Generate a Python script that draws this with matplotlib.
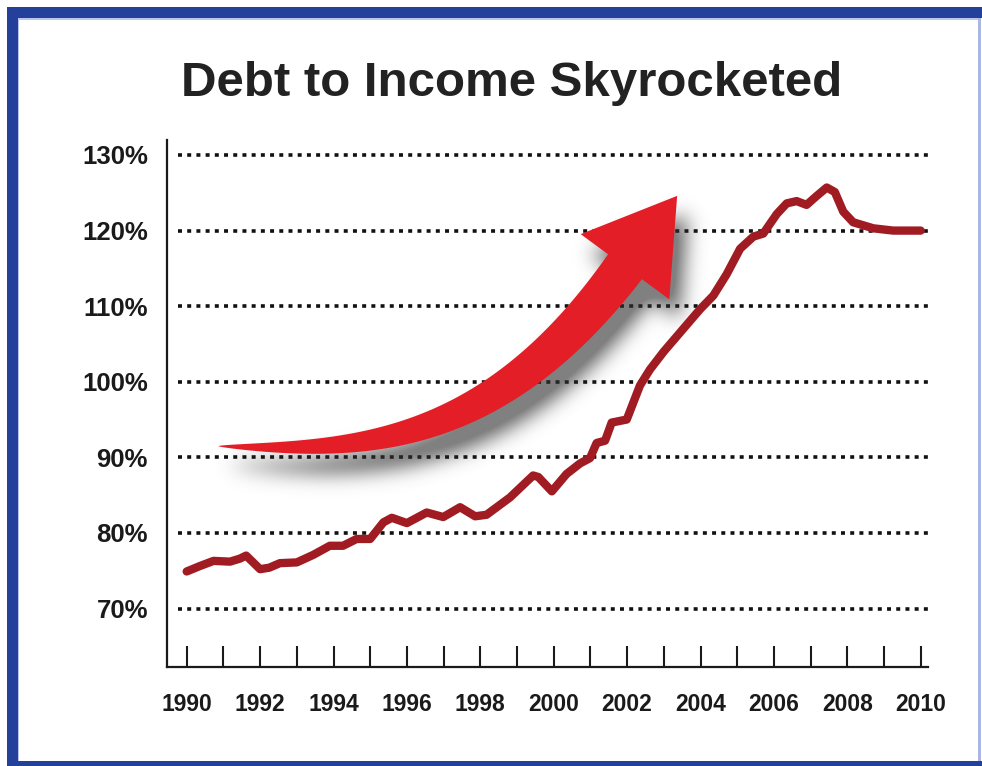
import numpy as np
import matplotlib
matplotlib.use("Agg")
import matplotlib.pyplot as plt
from matplotlib.path import Path
from matplotlib.patches import Polygon, Rectangle
from matplotlib.transforms import Affine2D

# ---- data -------------------------------------------------------------
years = [1990.00, 1990.35, 1990.73, 1991.18, 1991.45, 1991.62, 1992.00, 1992.25,
         1992.54, 1993.00, 1993.45, 1993.90, 1994.26, 1994.63, 1995.00, 1995.36,
         1995.59, 1996.00, 1996.54, 1996.99, 1997.45, 1997.86, 1998.17, 1998.81,
         1999.44, 1999.58, 1999.95, 2000.35, 2000.72, 2000.99, 2001.17, 2001.40,
         2001.58, 2001.99, 2002.35, 2002.62, 2003.00, 2003.53, 2003.99, 2004.35,
         2004.71, 2005.08, 2005.44, 2005.71, 2006.08, 2006.35, 2006.62, 2006.89,
         2007.17, 2007.44, 2007.66, 2007.89, 2008.16, 2008.71, 2009.25, 2010.00]
debt_to_income = [74.9, 75.6, 76.3, 76.2, 76.6, 77.0, 75.2, 75.4,
                  76.0, 76.1, 77.1, 78.3, 78.3, 79.2, 79.2, 81.4,
                  82.0, 81.3, 82.7, 82.1, 83.4, 82.2, 82.4, 84.7,
                  87.6, 87.4, 85.5, 87.8, 89.2, 89.9, 91.9, 92.2,
                  94.6, 95.0, 99.5, 101.6, 104.0, 107.0, 109.6, 111.4,
                  114.2, 117.6, 119.2, 119.6, 122.2, 123.6, 123.9, 123.4,
                  124.6, 125.7, 125.1, 122.5, 121.1, 120.3, 120.0, 120.0]

y_ticks = [70, 80, 90, 100, 110, 120, 130]
y_tick_labels = [f"{v}%" for v in y_ticks]
x_ticks = list(range(1990, 2011))
x_tick_labels = [str(y) if y % 2 == 0 else "" for y in x_ticks]
title = "Debt to Income Skyrocketed"

# ---- figure -----------------------------------------------------------
W, H = 982, 766
plt.rcParams["font.family"] = ["Liberation Sans", "DejaVu Sans"]
fig = plt.figure(figsize=(W / 100, H / 100), dpi=100)
fig.patch.set_facecolor("white")

# transform for figure-pixel coordinates (origin top-left)
px = Affine2D().scale(1 / W, -1 / H).translate(0, 1) + fig.transFigure

ax_l, ax_r, ax_t, ax_b = 166.7, 928.0, 140.0, 667.0
ax = fig.add_axes([ax_l / W, 1 - ax_b / H, (ax_r - ax_l) / W, (ax_b - ax_t) / H])
ax.patch.set_alpha(0)

LINE_RED = "#a01c22"
ARROW_RED = "#e31e27"
FRAME_BLUE = "#24409a"

# dotted gridlines
for v in y_ticks:
    ax.axhline(v, xmin=0.0148, xmax=1.0026, color="#111111", lw=2.6,
               linestyle=(0, (1.1, 1.45)), dash_capstyle="butt",
               clip_on=False, zorder=1)

# ---- decorative rising arrow with soft shadow ----------------------------
guide_x = np.array([218, 300, 387, 456, 525, 577, 625], float)
guide_y = np.array([446, 447, 438, 412, 372, 326, 266], float)
coef = np.polyfit(guide_x, guide_y, 3)
dcoef = np.polyder(coef)
sx = np.linspace(guide_x[0], guide_x[-1], 160)
sy = np.polyval(coef, sx)
slope = np.polyval(dcoef, sx)
tan = np.stack([np.ones_like(slope), slope], axis=1)
tan /= np.linalg.norm(tan, axis=1)[:, None]
nrm = np.stack([-tan[:, 1], tan[:, 0]], axis=1)  # points to lower-right
frac = (sx - sx[0]) / (sx[-1] - sx[0])
half_w = 21.0 * frac ** 0.72
centre = np.stack([sx, sy], axis=1)
upper = centre - half_w[:, None] * nrm
lower = centre + half_w[:, None] * nrm
c_end, t_end, n_end = centre[-1], tan[-1], nrm[-1]
barb1 = c_end - 55 * n_end
barb2 = c_end + 55 * n_end
tip = c_end + 88 * t_end
arrow_pts = np.vstack([upper, barb1, tip, barb2, lower[::-1]])

# shadow: rasterised arrow shape, offset and blurred
gx, gy = np.meshgrid(np.arange(W) + 0.5, np.arange(H) + 0.5)
shadow_path = Path(arrow_pts + np.array([10.0, 19.0]))
mask = shadow_path.contains_points(np.column_stack([gx.ravel(), gy.ravel()]))
mask = mask.reshape(H, W).astype(float)
fy = np.fft.fftfreq(H)[:, None]
fx = np.fft.rfftfreq(W)[None, :]
sigma = 10.0
kern = np.exp(-2 * (np.pi * sigma) ** 2 * (fx ** 2 + fy ** 2))
blur = np.fft.irfft2(np.fft.rfft2(mask) * kern, s=mask.shape)
blur = np.clip(blur * 1.3, 0, 1)
rgba = np.zeros((H, W, 4))
rgba[..., :3] = 0.2
rgba[..., 3] = blur * 0.62
ax.imshow(rgba, extent=(0, W, H, 0), transform=px, aspect="auto",
          interpolation="bilinear", zorder=2, clip_on=False)

ax.add_patch(Polygon(arrow_pts, closed=True, transform=px, facecolor=ARROW_RED,
                     edgecolor="none", zorder=3, clip_on=False))

# ---- data line --------------------------------------------------------
ax.plot(years, debt_to_income, color=LINE_RED, lw=6.0,
        solid_joinstyle="round", solid_capstyle="round", zorder=5)

# ---- axes styling -----------------------------------------------------
x_per_px = 1 / 36.7
ax.set_xlim(1990 - (186.7 - ax_l) * x_per_px, 1990 + (ax_r - 186.7) * x_per_px)
v_per_px = 60 / (608.5 - 155.0)
ax.set_ylim(70 - (ax_b - 608.5) * v_per_px, 70 + (608.5 - ax_t) * v_per_px)

for side in ("top", "right"):
    ax.spines[side].set_visible(False)
for side in ("left", "bottom"):
    ax.spines[side].set_color("#1a1a1a")
    ax.spines[side].set_linewidth(1.6)

ax.set_xticks(x_ticks)
ax.set_xticklabels(x_tick_labels, fontsize=16.5, fontweight="bold", color="#1a1a1a")
ax.tick_params(axis="x", direction="in", length=15, width=1.5, color="#1a1a1a", pad=19)
ax.set_yticks(y_ticks)
ax.set_yticklabels(y_tick_labels, fontsize=18.5, fontweight="bold", color="#1a1a1a")
ax.tick_params(axis="y", length=0, pad=13.5)

# ---- title ------------------------------------------------------------
fig.text(512 / W, 1 - 83 / H, title, ha="center", va="center",
         fontsize=35.5, fontweight="bold", color="#222222")

# ---- frame ------------------------------------------------------------
frame_parts = [
    (7, 7, W - 7, 11, FRAME_BLUE),      # top band
    (7, 7, 11, H - 7, FRAME_BLUE),      # left band
    (7, 761, W - 7, 5, FRAME_BLUE),     # bottom band
    (978.5, 18, 2.5, 743, "#a9b8e3"),   # thin right edge
    (18, 18, 1.5, 743, "#b9c6ec"),      # inner highlight
    (18, 18, 960, 1.5, "#b9c6ec"),
]
for x0, y0, w, h, col in frame_parts:
    fig.add_artist(Rectangle((x0, y0), w, h, transform=px, facecolor=col,
                             edgecolor="none", zorder=10))

fig.savefig("out.png", dpi=100, facecolor="white")
